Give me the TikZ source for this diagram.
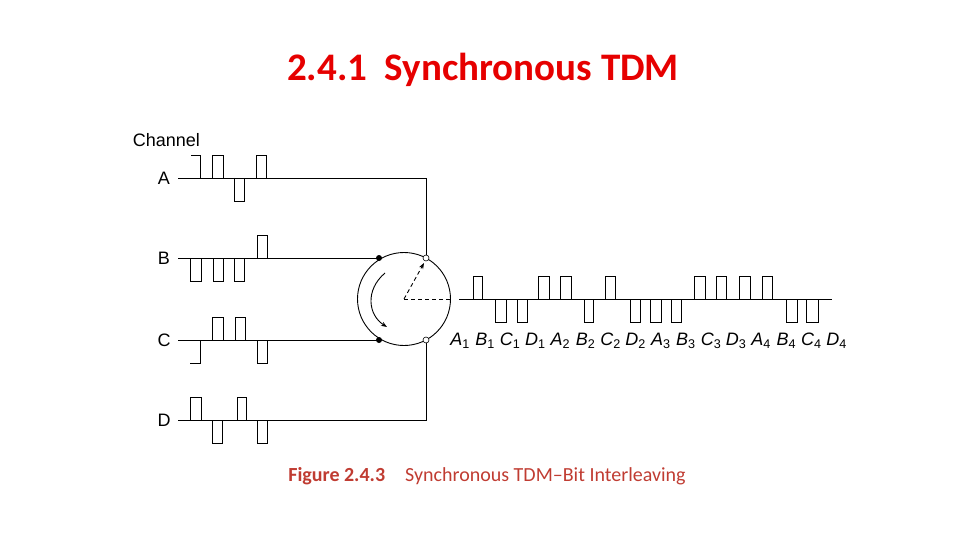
\documentclass[tikz,border=0pt]{standalone}
\usepackage{fontspec}
\setmainfont{Liberation Sans}
\newfontfamily\calfont{Carlito}
\usetikzlibrary{arrows.meta}
\definecolor{ttl}{RGB}{230,0,0}
\definecolor{cap}{RGB}{192,60,50}
\newcommand{\pup}[3]{(#1,#3) -- (#1,#3-23) -- (#2,#3-23) -- (#2,#3)}
\newcommand{\pdn}[3]{(#1,#3) -- (#1,#3+23) -- (#2,#3+23) -- (#2,#3)}
\begin{document}
\begin{tikzpicture}[x=1pt,y=-1pt,line width=0.9pt,
  lbl/.style={font=\fontsize{18}{18}\selectfont,anchor=center},
  olbl/.style={font=\fontsize{18}{18}\selectfont\itshape,anchor=center},
  dsh/.style={dash pattern=on 4pt off 3pt}]
\useasboundingbox (0,0) rectangle (960,540);
\node[font=\calfont\bfseries\fontsize{39}{39}\selectfont,text=ttl] (title) at (483,70) {2.4.1\ \ Synchronous TDM};
\node[lbl,anchor=west] (ch) at (129,140) {Channel};
\node[lbl] (la) at (164,178) {A};
\node[lbl] (lb) at (164,258) {B};
\node[lbl] (lc) at (164,340) {C};
\node[lbl] (ld) at (164,420) {D};
% A
\coordinate (a0) at (178,178);
\coordinate (a1) at (426,178);
\draw (a0) -- (a1) -- (426,258);
\draw (191,155) -- (200,155) -- (200,178);
\draw \pup{212}{223}{178} \pdn{234}{244}{178} \pup{256}{266}{178};
% B
\draw (178,258) -- (379,258);
\draw \pdn{190}{201}{258} \pdn{213}{223}{258} \pdn{234}{244}{258} \pup{257}{267}{258};
% C
\draw (178,340) -- (379,340);
\draw (190,363) -- (200,363) -- (200,340);
\draw \pup{212}{223}{340} \pup{235}{245}{340} \pdn{257}{267}{340};
% D
\draw (178,420) -- (426,420) -- (426,340);
\draw \pup{190}{201}{420} \pdn{212}{222}{420} \pup{237}{246}{420} \pdn{257}{267}{420};
% commutator
\node[circle,draw,minimum size=93pt,inner sep=0pt] (sw) at (404,299) {};
\coordinate (cen) at (404,299);
\fill (379,258) circle (3pt);
\fill (379,340) circle (3pt);
\draw[fill=white,line width=0.6pt] (426,258) circle (3pt);
\draw[fill=white,line width=0.6pt] (426,340) circle (3pt);
\draw[dsh,-{Stealth[length=6pt]}] (cen) -- (424,263);
\draw[dsh] (cen) -- (451,299);
\draw[-{Stealth[length=6pt]}] (385,273) .. controls (365,290) and (368,315) .. (387,327);
% output
\draw (459,299) -- (832,299);
\draw \pup{473}{482}{299} \pdn{495}{506}{299} \pdn{517}{527}{299} \pup{538}{549}{299}
      \pup{560}{571}{299} \pdn{584}{593}{299} \pup{605}{615}{299} \pdn{630}{640}{299}
      \pdn{650}{661}{299} \pdn{671}{681}{299} \pup{694}{705}{299} \pup{716}{726}{299}
      \pup{739}{750}{299} \pup{762}{772}{299} \pdn{786}{797}{299} \pdn{806}{818}{299};
\foreach \n [count=\j from 0] in {1,2,3,4}
  \foreach \l [count=\k from 0] in {A,B,C,D}
    \node[olbl] (o\l\n) at (460+\j*100.4+\k*25.1,341) {\l\textsubscript{\upshape\n}};
\node[font=\calfont\fontsize{20}{20}\selectfont,text=cap] (capt) at (487,476) {\textbf{Figure 2.4.3}\quad Synchronous TDM–Bit Interleaving};
\end{tikzpicture}
\end{document}
